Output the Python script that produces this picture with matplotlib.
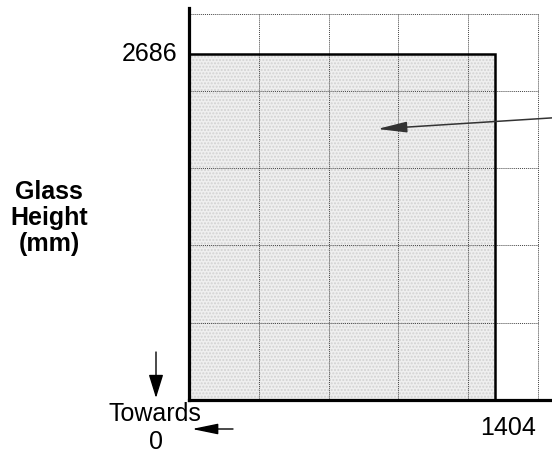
import matplotlib
matplotlib.use("Agg")
import matplotlib.pyplot as plt
from matplotlib.patches import Rectangle

plt.rcParams['font.family'] = ['Liberation Sans', 'DejaVu Sans']

# datos del vidrio (mm)
glass_width = 1404
glass_height = 2686

# lineas de la rejilla
grid_x = [320, 640, 960, 1280, 1600]
grid_y = [600, 1200, 1800, 2400, 3000]

# limites de los ejes
x_max = 1665
y_max = 3043

# punto al que apunta la flecha
arrow_tip = (864, 2104)
arrow_tail = (1665, 2190)

W, H = 552, 455


def fig_px(x, y):
    # pixeles desde arriba-izquierda -> fraccion de figura
    return (x / W, 1 - y / H)


fig = plt.figure(figsize=(W / 100, H / 100), dpi=100)
ax = fig.add_axes([189 / W, 55 / H, 363 / W, 392 / H])
ax.set_xlim(0, x_max)
ax.set_ylim(0, y_max)

# rejilla punteada
ax.vlines(grid_x, 0, max(grid_y), colors='#444444', linestyles=(0, (1, 1)), linewidth=0.7, zorder=3)
ax.hlines(grid_y, 0, max(grid_x), colors='#444444', linestyles=(0, (1, 1)), linewidth=0.7, zorder=3)

# relleno del vidrio
ax.add_patch(Rectangle((0, 0), glass_width, glass_height, facecolor='#efefef',
                       edgecolor='#d2d2d2', linewidth=0, hatch='.....', zorder=1))
ax.plot([0, glass_width, glass_width], [glass_height, glass_height, 0],
        color='black', linewidth=1.8, zorder=4, solid_joinstyle='miter')

for s in ['top', 'right']:
    ax.spines[s].set_visible(False)
for s in ['left', 'bottom']:
    ax.spines[s].set_linewidth(2.3)
    ax.spines[s].set_zorder(5)
ax.set_xticks([])
ax.set_yticks([])

ax.annotate('', xy=arrow_tip, xytext=arrow_tail, annotation_clip=False,
            arrowprops=dict(arrowstyle='-|>,head_length=1.8,head_width=0.33',
                            mutation_scale=10, color='#333333', linewidth=1.1,
                            shrinkA=0, shrinkB=0), zorder=6)

fs = 18
fig.text(*fig_px(177, 54), str(glass_height), ha='right', va='center', fontsize=fs)
fig.text(*fig_px(508, 428), str(glass_width), ha='center', va='center', fontsize=fs)
fig.text(*fig_px(49, 218), 'Glass\nHeight\n(mm)', ha='center', va='center',
         fontsize=fs, fontweight='bold', linespacing=1.1)
fig.text(*fig_px(155, 414), 'Towards', ha='center', va='center', fontsize=fs)
fig.text(*fig_px(156, 442), '0', ha='center', va='center', fontsize=fs)

# flechas "hacia 0"
ax.annotate('', xy=fig_px(156, 398), xytext=fig_px(156, 352),
            xycoords='figure fraction', textcoords='figure fraction',
            arrowprops=dict(arrowstyle='-|>,head_length=1.45,head_width=0.45',
                            mutation_scale=10, color='black', linewidth=1,
                            shrinkA=0, shrinkB=0))
ax.annotate('', xy=fig_px(192, 429), xytext=fig_px(233, 429),
            xycoords='figure fraction', textcoords='figure fraction',
            arrowprops=dict(arrowstyle='-|>,head_length=1.6,head_width=0.33',
                            mutation_scale=10, color='black', linewidth=1,
                            shrinkA=0, shrinkB=0))

plt.savefig('out.png', dpi=100)
